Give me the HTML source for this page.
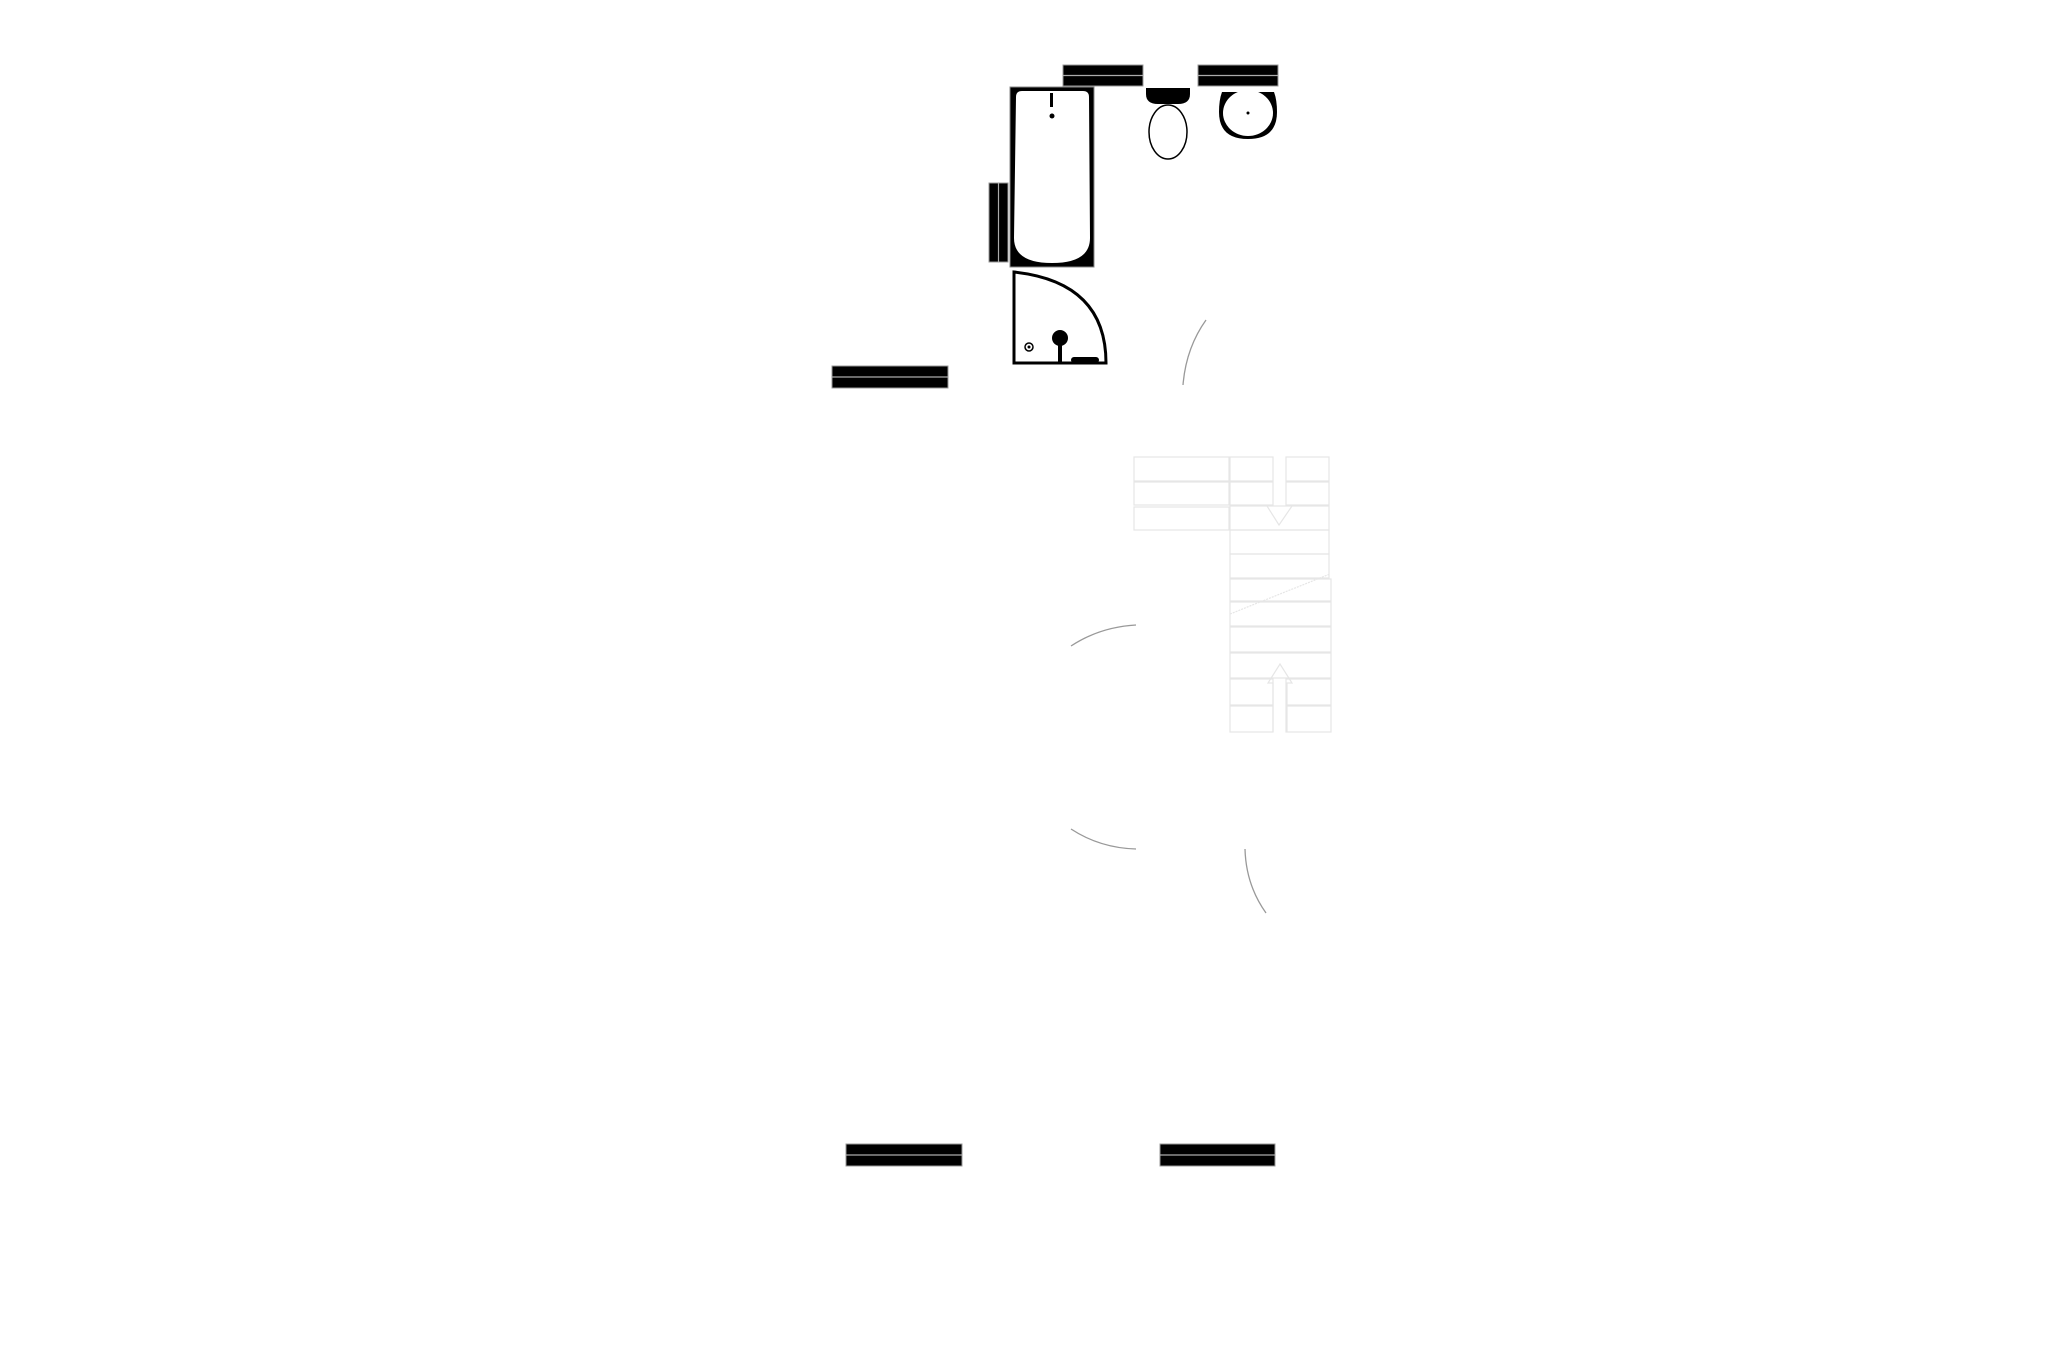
<!DOCTYPE html>
<html><head><style>html,body{margin:0;padding:0;background:#fff}svg{display:block}</style></head>
<body>
<svg width="2057" height="1371" viewBox="0 0 2057 1371" xmlns="http://www.w3.org/2000/svg">
<rect width="2057" height="1371" fill="#fff"/>
<g fill="#000" stroke="#999" stroke-width="1">
<rect x="1063" y="65" width="80" height="21"/>
<rect x="1198" y="65" width="80" height="21"/>
<rect x="832" y="366" width="116" height="22"/>
<rect x="846" y="1144" width="116" height="22"/>
<rect x="1160" y="1144" width="115" height="22"/>
<rect x="989" y="183" width="19" height="79"/>
</g>
<g stroke="#aaa" stroke-width="1.2">
<line x1="1063" y1="75.5" x2="1143" y2="75.5"/>
<line x1="1198" y1="75.5" x2="1278" y2="75.5"/>
<line x1="832" y1="377" x2="948" y2="377"/>
<line x1="846" y1="1155" x2="962" y2="1155"/>
<line x1="1160" y1="1155" x2="1275" y2="1155"/>
<line x1="998.5" y1="183" x2="998.5" y2="262"/>
</g>
<!-- bath -->
<rect x="1010" y="87" width="84" height="180" fill="#000" stroke="#888"/>
<path d="M1022 91 H1083 Q1089 91 1089 97 L1090 238 Q1090 263 1052 263 Q1014 263 1014 238 L1016 97 Q1016 91 1022 91 Z" fill="#fff"/>
<rect x="1050" y="93" width="3" height="14" fill="#000"/>
<circle cx="1052" cy="116" r="2.5" fill="#000"/>
<!-- shower -->
<path d="M1014 272 V363 H1106 Q1106 282 1014 272 Z" fill="#fff" stroke="#000" stroke-width="3"/>
<circle cx="1060" cy="338" r="8" fill="#000"/>
<rect x="1058" y="345" width="4" height="18" fill="#000"/>
<circle cx="1029" cy="347" r="4" fill="none" stroke="#000" stroke-width="1.5"/>
<circle cx="1029" cy="347" r="1.5" fill="#000"/>
<rect x="1071" y="357" width="28" height="6" rx="3" fill="#000"/>
<!-- toilet -->
<path d="M1146 88 H1190 V94 Q1190 104 1178 104 H1158 Q1146 104 1146 94 Z" fill="#000"/>
<ellipse cx="1168" cy="132" rx="19" ry="27" fill="#fff" stroke="#000" stroke-width="1.5"/>
<!-- basin -->
<path d="M1222 92 H1274 Q1277 100 1277 112 Q1277 139 1248 139 Q1219 139 1219 112 Q1219 100 1222 92 Z" fill="#000"/>
<ellipse cx="1248" cy="113" rx="25" ry="23" fill="#fff"/>
<circle cx="1248" cy="113" r="1.5" fill="#000"/>
<!-- door arcs -->
<g fill="none" stroke="#999" stroke-width="1.3">
<path d="M1206 320 Q1186 348 1183 385"/>
<path d="M1071 646 Q1100 627 1136 625"/>
<path d="M1071 829 Q1100 848 1136 849"/>
<path d="M1245 849 Q1246 885 1266 913"/>
</g>
<!-- stairs -->
<g fill="none" stroke="#e6e6e6" stroke-width="1.2">
<rect x="1134" y="457" width="95" height="24"/>
<rect x="1134" y="482" width="95" height="23"/>
<rect x="1134" y="507" width="95" height="23"/>
<rect x="1230" y="457" width="43" height="24"/>
<rect x="1230" y="482" width="43" height="23"/>
<rect x="1286" y="457" width="43" height="24"/>
<rect x="1286" y="482" width="43" height="23"/>
<rect x="1230" y="506" width="99" height="24"/>
<rect x="1230" y="530" width="99" height="24"/>
<rect x="1230" y="554" width="99" height="24"/>
<rect x="1230" y="579" width="101" height="22"/>
<rect x="1230" y="602" width="101" height="24"/>
<rect x="1230" y="627" width="101" height="25"/>
<rect x="1230" y="653" width="101" height="25"/>
<rect x="1230" y="679" width="43" height="26"/>
<rect x="1286" y="679" width="45" height="26"/>
<rect x="1230" y="706" width="43" height="26"/>
<rect x="1286" y="706" width="45" height="26"/>
<path d="M1267 506 L1279 525 L1292 506"/>
<path d="M1273 732 V683 H1268 L1280 664 L1292 683 H1287 V732"/>
<path d="M1230 614 L1330 574" stroke-dasharray="2 1"/>
</g>
</svg>
</body></html>
